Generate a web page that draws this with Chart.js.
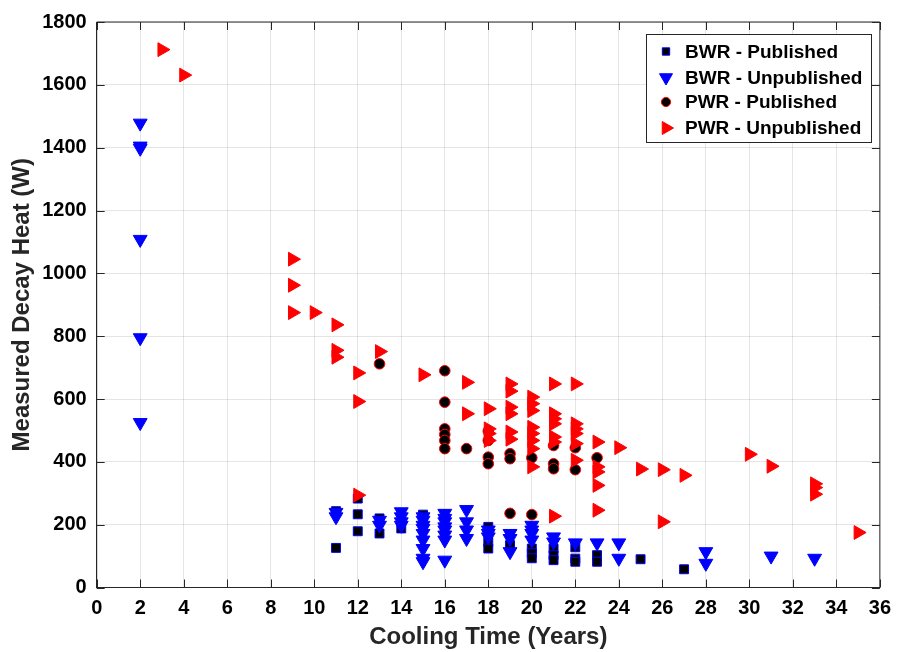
<!DOCTYPE html>
<html>
<head>
<meta charset="utf-8">
<title>Measured Decay Heat vs Cooling Time</title>
<script src="https://cdn.jsdelivr.net/npm/chart.js@4.4.0/dist/chart.umd.min.js"></script>
<style>
    html, body { margin: 0; padding: 0; background: #fff; }
    #wrap { width: 900px; height: 652px; position: relative; }
</style>
</head>
<body>
<div id="wrap"><canvas id="chart"></canvas></div>
<script>
// values (cooling time in years, decay heat in W)
const bwrPubYears = [11, 11, 12, 12, 12, 13, 13, 14, 15, 18, 18, 18, 19, 20, 20, 20, 21, 21, 21, 22, 22, 22, 23, 23, 25, 27];
const bwrPubHeat = [243, 126, 283, 233, 179, 220, 172, 188, 232, 193, 145, 124, 135, 124, 109, 93, 124, 103, 87, 128, 92, 82, 103, 82, 90, 58];

const bwrUnpubYears = [2, 2, 2, 2, 2, 2, 11, 11, 13, 13, 14, 14, 14, 14,
    15, 15, 15, 15, 15, 15, 15, 15, 15, 16, 16, 16, 16, 16, 16, 16, 16,
    17, 17, 17, 17, 18, 18, 18, 19, 19, 19, 20, 20, 20, 20, 21, 21, 22, 23, 24, 24, 28, 28, 31, 33];
const bwrUnpubHeat = [1478, 1405, 1398, 1108, 795, 525, 239, 225, 214, 198, 241, 225, 209, 198,
    225, 214, 198, 188, 172, 151, 124, 93, 82, 236, 220, 209, 193, 183, 167, 151, 87,
    248, 209, 183, 156, 183, 172, 161, 172, 156, 114, 198, 183, 172, 151, 161, 145, 142, 142, 142, 93, 114, 77, 100, 93];

const pwrPubYears = [13, 16, 16, 16, 16, 16, 16, 17, 18, 18, 18, 18, 19, 19, 19, 20, 20, 21, 21, 21, 22, 22, 23];
const pwrPubHeat = [712, 690, 590, 505, 487, 468, 442, 442, 498, 468, 415, 394, 426, 410, 236, 413, 232, 452, 394, 378, 445, 375, 413];

const pwrUnpubYears = [3, 4, 9, 9, 9, 10, 11, 11, 11, 12, 12, 12, 13, 15, 17, 17,
    18, 18, 18, 18, 19, 19, 19, 19, 19, 19, 20, 20, 20, 20, 20, 20, 20, 20,
    21, 21, 21, 21, 21, 21, 21, 22, 22, 22, 22, 22, 22, 23, 23, 23, 23, 23,
    24, 25, 26, 26, 27, 30, 31, 33, 33, 33, 35];
const pwrUnpubHeat = [1712, 1631, 1045, 962, 875, 875, 836, 755, 733, 683, 592, 294, 751, 677, 653, 553,
    569, 505, 490, 468, 648, 625, 574, 553, 495, 472, 606, 585, 563, 510, 490, 468, 442, 384,
    648, 553, 537, 521, 479, 463, 227, 648, 521, 505, 490, 458, 405, 463, 384, 368, 325, 246,
    445, 377, 375, 209, 357, 424, 386, 330, 318, 297, 175];

const seriesLabels = ['BWR - Published', 'BWR - Unpublished', 'PWR - Published', 'PWR - Unpublished'];
const xTicks = [0, 2, 4, 6, 8, 10, 12, 14, 16, 18, 20, 22, 24, 26, 28, 30, 32, 34, 36];
const yTicks = [0, 200, 400, 600, 800, 1000, 1200, 1400, 1600, 1800];

const FONT = '"Liberation Sans", Arial, Helvetica, sans-serif';
const AXIS_COLOR = '#262626';

function toPoints(xs, ys) {
    return xs.map((x, i) => ({ x, y: ys[i] }));
}

const datasets = [
    {
        label: seriesLabels[0],
        data: toPoints(bwrPubYears, bwrPubHeat),
        pointStyle: 'rect', pointRadius: 6.3, pointRotation: 0,
        backgroundColor: '#000000', borderColor: '#0000ff', borderWidth: 1,
        order: 4,
    },
    {
        label: seriesLabels[1],
        data: toPoints(bwrUnpubYears, bwrUnpubHeat),
        pointStyle: 'triangle', pointRadius: 8, pointRotation: 180,
        backgroundColor: '#0000ff', borderColor: '#0000ff', borderWidth: 1,
        order: 3,
    },
    {
        label: seriesLabels[2],
        data: toPoints(pwrPubYears, pwrPubHeat),
        pointStyle: 'circle', pointRadius: 5.3, pointRotation: 0,
        backgroundColor: '#000000', borderColor: '#ff0000', borderWidth: 1,
        order: 2,
    },
    {
        label: seriesLabels[3],
        data: toPoints(pwrUnpubYears, pwrUnpubHeat),
        pointStyle: 'triangle', pointRadius: 8, pointRotation: 90,
        backgroundColor: '#ff0000', borderColor: '#ff0000', borderWidth: 1,
        order: 1,
    },
];

// box around the plot with inward tick marks on all four sides
const boxPlugin = {
    id: 'boxPlugin',
    afterDatasetsDraw(chart) {
        const { ctx, chartArea: a, scales } = chart;
        const len = 8;
        ctx.save();
        ctx.strokeStyle = AXIS_COLOR;
        ctx.lineWidth = 1;
        ctx.beginPath();
        ctx.rect(a.left, a.top, a.right - a.left, a.bottom - a.top);
        xTicks.forEach((v) => {
            const px = Math.round(scales.x.getPixelForValue(v)) + 0.5;
            ctx.moveTo(px, a.bottom); ctx.lineTo(px, a.bottom - len);
            ctx.moveTo(px, a.top); ctx.lineTo(px, a.top + len);
        });
        yTicks.forEach((v) => {
            const py = Math.round(scales.y.getPixelForValue(v)) + 0.5;
            ctx.moveTo(a.left, py); ctx.lineTo(a.left + len, py);
            ctx.moveTo(a.right, py); ctx.lineTo(a.right - len, py);
        });
        ctx.stroke();
        ctx.restore();
    },
};

// MATLAB-style legend box in the top right corner
const legendPlugin = {
    id: 'legendBox',
    afterDraw(chart) {
        const { ctx } = chart;
        const box = { x: 646.5, y: 34.5, w: 225, h: 108 };
        const rows = [51.5, 77.5, 102, 128];
        const markerSize = [5.2, 7.5, 4.6, 7.5];
        ctx.save();
        ctx.fillStyle = '#ffffff';
        ctx.strokeStyle = AXIS_COLOR;
        ctx.lineWidth = 1;
        ctx.fillRect(box.x, box.y, box.w, box.h);
        ctx.strokeRect(box.x, box.y, box.w, box.h);
        chart.data.datasets.forEach((ds, i) => {
            const y = rows[i];
            ctx.fillStyle = ds.backgroundColor;
            ctx.strokeStyle = ds.borderColor;
            ctx.lineWidth = ds.borderWidth;
            Chart.helpers.drawPoint(ctx, {
                pointStyle: ds.pointStyle,
                rotation: ds.pointRotation,
                radius: markerSize[i],
                borderWidth: ds.borderWidth,
            }, 666, y);
            ctx.fillStyle = '#000000';
            ctx.font = `bold 19px ${FONT}`;
            ctx.textBaseline = 'middle';
            ctx.textAlign = 'left';
            ctx.fillText(ds.label, 685, y + 1);
        });
        ctx.restore();
    },
};

const ctx = document.querySelector('#chart').getContext('2d');
const chart = new Chart(ctx, {
    type: 'scatter',
    data: { datasets },
    options: {
        responsive: true,
        maintainAspectRatio: false,
        animation: false,
        layout: { padding: { top: 20.7, right: 13.3, left: 0, bottom: 0 } },
        plugins: {
            legend: { display: false },
            tooltip: { enabled: false },
        },
        scales: {
            x: {
                type: 'linear',
                min: 0,
                max: 36,
                afterFit: (scale) => { scale.height = 64.5; },
                afterBuildTicks: (scale) => { scale.ticks = xTicks.map((v) => ({ value: v })); },
                ticks: {
                    autoSkip: false,
                    maxRotation: 0,
                    padding: 9,
                    color: '#000000',
                    font: { family: FONT, size: 20, weight: 'bold' },
                    callback: (value) => String(value),
                },
                grid: { color: 'rgba(0,0,0,0.1)', drawTicks: false },
                border: { color: AXIS_COLOR },
                title: {
                    display: true,
                    text: 'Cooling Time (Years)',
                    color: '#262626',
                    padding: { top: 0, bottom: 0 },
                    font: { family: FONT, size: 24, weight: 'bold' },
                },
            },
            y: {
                type: 'linear',
                min: 0,
                max: 1800,
                afterFit: (scale) => { scale.width = 96.7; },
                afterBuildTicks: (scale) => { scale.ticks = yTicks.map((v) => ({ value: v })); },
                ticks: {
                    autoSkip: false,
                    padding: 10,
                    color: '#000000',
                    font: { family: FONT, size: 20, weight: 'bold' },
                    callback: (value) => String(value),
                },
                grid: { color: 'rgba(0,0,0,0.1)', drawTicks: false },
                border: { color: AXIS_COLOR },
                title: {
                    display: true,
                    text: 'Measured Decay Heat (W)',
                    color: '#262626',
                    padding: { top: 8, bottom: 0 },
                    font: { family: FONT, size: 24, weight: 'bold' },
                },
            },
        },
    },
    plugins: [boxPlugin, legendPlugin],
});
</script>
</body>
</html>
